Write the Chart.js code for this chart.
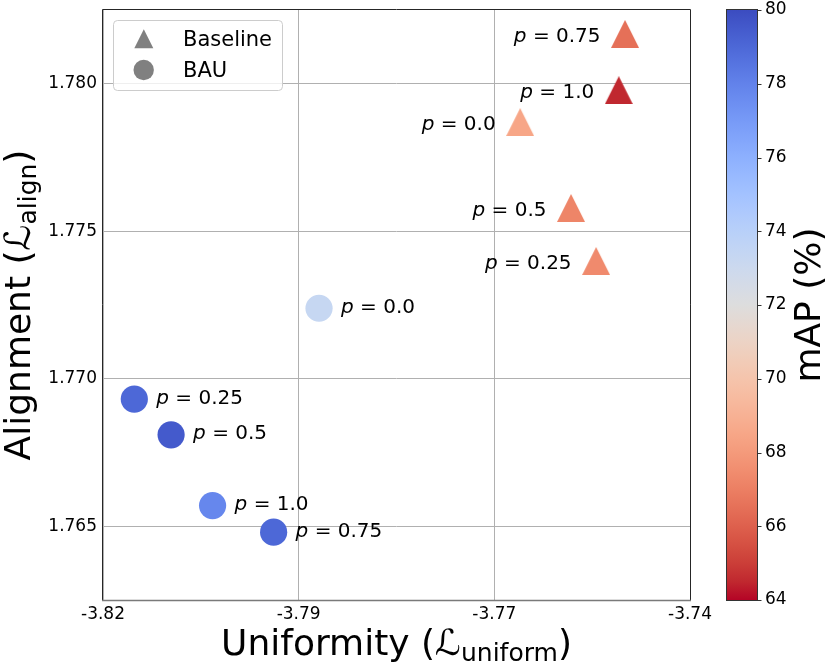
<!DOCTYPE html>
<html>
<head>
<meta charset="utf-8">
<script src="https://cdn.jsdelivr.net/npm/chart.js@4.4.1/dist/chart.umd.min.js"></script>
<style>
  html, body { margin: 0; padding: 0; background: #fff; }
</style>
</head>
<body>
<canvas id="c" width="830" height="666"></canvas>
<script>
// p values shown next to each point (same order for both series)
const pLabels = ["0.0", "0.25", "0.5", "0.75", "1.0"];

// Baseline (triangles)
const baselineX = [-3.7667, -3.7570, -3.7602, -3.7533, -3.7541];
const baselineY = [1.77870, 1.77399, 1.77579, 1.78169, 1.77978];
const baselineMAP = [68.5, 67.4, 67.2, 66.5, 64.5];

// BAU (circles)
const bauX = [-3.7924, -3.8160, -3.8113, -3.7982, -3.8060];
const bauY = [1.77239, 1.76931, 1.76810, 1.76480, 1.76570];
const bauMAP = [73.3, 79.0, 79.5, 79.0, 77.8];

const xTicks = [-3.82, -3.795, -3.77, -3.745];
const xTickLabels = ["-3.82", "-3.79", "-3.77", "-3.74"];
const yTicks = [1.765, 1.770, 1.775, 1.780];
const cbTicks = [64, 66, 68, 70, 72, 74, 76, 78, 80];
const cbMin = 64, cbMax = 80;

// coolwarm colormap lookup (33 samples), used reversed: 80 -> blue, 64 -> red
const coolwarm = [
  [59,76,192],[68,90,204],[77,104,215],[87,117,225],[98,130,234],[108,142,241],
  [119,154,247],[130,165,251],[141,176,254],[152,185,255],[163,194,255],[174,201,253],
  [184,208,249],[194,213,244],[204,217,238],[213,219,230],[221,221,221],[229,216,209],
  [236,211,197],[241,204,184],[245,196,172],[247,187,160],[247,177,148],[247,166,135],
  [244,154,123],[241,141,111],[236,127,99],[229,112,88],[222,96,77],[213,80,66],
  [203,62,56],[192,40,47],[180,4,38]
];
function cmap(t) {
  t = Math.max(0, Math.min(1, t)) * (coolwarm.length - 1);
  const i = Math.min(Math.floor(t), coolwarm.length - 2), f = t - i;
  const a = coolwarm[i], b = coolwarm[i + 1];
  const c = a.map((v, k) => Math.round(v + (b[k] - v) * f));
  return `rgb(${c[0]},${c[1]},${c[2]})`;
}
const mapColor = (v) => cmap((cbMax - v) / (cbMax - cbMin));

// matplotlib-like "^" marker (width == height)
function triangleImage(color, size) {
  const cv = document.createElement("canvas");
  cv.width = size; cv.height = size;
  const g = cv.getContext("2d");
  g.fillStyle = color;
  g.beginPath();
  g.moveTo(size / 2, 0);
  g.lineTo(size, size);
  g.lineTo(0, size);
  g.closePath();
  g.fill();
  return cv;
}

const FONT = "'DejaVu Sans', sans-serif";
const triImgs = baselineMAP.map((v) => triangleImage(mapColor(v), 28));

// draws text made of several runs (font / vertical shift) starting at x
function drawRuns(ctx, runs, x, y, align) {
  let total = 0;
  runs.forEach((r) => { ctx.font = r.font; r.w = ctx.measureText(r.t).width; total += r.w; });
  let cx = align === "center" ? x - total / 2 : align === "right" ? x - total : x;
  ctx.textAlign = "left";
  ctx.textBaseline = "alphabetic";
  runs.forEach((r) => {
    ctx.font = r.font;
    ctx.fillText(r.t, cx, y + (r.dy || 0));
    cx += r.w;
  });
}

const decorations = {
  id: "decorations",
  afterDraw(chart) {
    const { ctx, chartArea: ca, scales } = chart;
    ctx.save();
    ctx.fillStyle = "#000";

    // axes frame
    ctx.strokeStyle = "#262626";
    ctx.lineWidth = 1;
    ctx.beginPath();
    ctx.moveTo(ca.left - 0.5, ca.bottom);
    ctx.lineTo(ca.left - 0.5, ca.top - 0.5);
    ctx.lineTo(ca.right + 0.5, ca.top - 0.5);
    ctx.lineTo(ca.right + 0.5, ca.bottom);
    ctx.stroke();
    ctx.strokeStyle = "#7a7a7a";
    ctx.lineWidth = 1.5;
    ctx.beginPath();
    ctx.moveTo(ca.left - 1, ca.bottom + 0.5);
    ctx.lineTo(ca.right + 1, ca.bottom + 0.5);
    ctx.stroke();

    // point labels
    const x = scales.x, y = scales.y;
    pLabels.forEach((p, i) => {
      const bx = x.getPixelForValue(baselineX[i]), by = y.getPixelForValue(baselineY[i]);
      drawRuns(ctx, [
        { t: "p", font: `italic 20px ${FONT}` },
        { t: " = " + p, font: `20px ${FONT}` }
      ], bx - 24.5, by + 8, "right");
      const cx = x.getPixelForValue(bauX[i]), cy = y.getPixelForValue(bauY[i]);
      drawRuns(ctx, [
        { t: "p", font: `italic 20px ${FONT}` },
        { t: " = " + p, font: `20px ${FONT}` }
      ], cx + 22, cy + 4.5, "left");
    });

    // legend
    ctx.fillStyle = "rgba(255,255,255,0.8)";
    ctx.strokeStyle = "#cccccc";
    ctx.lineWidth = 1;
    ctx.beginPath();
    ctx.roundRect(113.5, 20.5, 169, 70, 4);
    ctx.fill();
    ctx.stroke();
    ctx.fillStyle = "#808080";
    ctx.beginPath();
    ctx.moveTo(143.8, 29.3);
    ctx.lineTo(153.3, 48.3);
    ctx.lineTo(134.3, 48.3);
    ctx.closePath();
    ctx.fill();
    ctx.beginPath();
    ctx.arc(143.7, 70, 10.2, 0, Math.PI * 2);
    ctx.fill();
    ctx.fillStyle = "#000";
    ctx.font = `21px ${FONT}`;
    ctx.textAlign = "left";
    ctx.textBaseline = "alphabetic";
    ctx.fillText("Baseline", 183, 45.5);
    ctx.fillText("BAU", 183, 77);

    // colorbar
    const cb = scales.cb;
    const top = cb.getPixelForValue(cbMax), bot = cb.getPixelForValue(cbMin);
    const bx0 = 727, bw = 30;
    const grad = ctx.createLinearGradient(0, top, 0, bot);
    coolwarm.forEach((c, i) => grad.addColorStop(i / (coolwarm.length - 1), `rgb(${c[0]},${c[1]},${c[2]})`));
    ctx.fillStyle = grad;
    ctx.fillRect(bx0, top, bw, bot - top);
    ctx.strokeStyle = "#333";
    ctx.lineWidth = 1;
    ctx.strokeRect(bx0 - 0.5, top - 0.5, bw + 1, bot - top + 1);
    ctx.beginPath();
    cbTicks.forEach((v) => {
      const py = Math.round(cb.getPixelForValue(v)) + 0.5;
      ctx.moveTo(bx0 + bw + 0.5, py);
      ctx.lineTo(bx0 + bw + 4.5, py);
    });
    ctx.stroke();

    // axis titles
    ctx.fillStyle = "#000";
    const midX = (ca.left + ca.right) / 2, midY = (ca.top + ca.bottom) / 2;
    drawRuns(ctx, [
      { t: "Uniformity (", font: `36px ${FONT}` },
      { t: "\u2112", font: `italic 36px ${FONT}` },
      { t: "uniform", font: `25px ${FONT}`, dy: 6 },
      { t: ")", font: `36px ${FONT}` }
    ], midX, 655, "center");

    ctx.save();
    ctx.translate(30, midY);
    ctx.rotate(-Math.PI / 2);
    drawRuns(ctx, [
      { t: "Alignment (", font: `36px ${FONT}` },
      { t: "\u2112", font: `italic 36px ${FONT}` },
      { t: "align", font: `25px ${FONT}`, dy: 6 },
      { t: ")", font: `36px ${FONT}` }
    ], 0, 0, "center");
    ctx.restore();

    ctx.save();
    ctx.translate(820, midY);
    ctx.rotate(-Math.PI / 2);
    drawRuns(ctx, [{ t: "mAP (%)", font: `36px ${FONT}` }], 0, 0, "center");
    ctx.restore();

    ctx.restore();
  }
};

const tickFont = { family: FONT, size: 17 };
const noPad = (s) => { s.paddingTop = 0; s.paddingBottom = 0; };

new Chart(document.getElementById("c"), {
  type: "scatter",
  data: {
    datasets: [
      {
        label: "Baseline",
        data: baselineX.map((v, i) => ({ x: v, y: baselineY[i] })),
        pointStyle: (c) => triImgs[c.dataIndex],
        pointRadius: 14,
        backgroundColor: baselineMAP.map(mapColor),
        borderWidth: 0
      },
      {
        label: "BAU",
        data: bauX.map((v, i) => ({ x: v, y: bauY[i] })),
        pointStyle: "circle",
        pointRadius: 13.6,
        backgroundColor: bauMAP.map(mapColor),
        borderWidth: 0
      }
    ]
  },
  options: {
    responsive: false,
    animation: false,
    devicePixelRatio: 1,
    events: [],
    layout: { autoPadding: false, padding: { top: 10, left: 0, right: 0, bottom: 0 } },
    plugins: { legend: { display: false }, tooltip: { enabled: false } },
    scales: {
      x: {
        type: "linear",
        min: -3.82,
        max: -3.745,
        afterBuildTicks: (s) => { s.ticks = xTicks.map((v) => ({ value: v })); },
        afterFit: (s) => { s.height = 66; s.paddingLeft = 0; s.paddingRight = 0; },
        ticks: {
          font: tickFont,
          color: "#000",
          padding: 4,
          maxRotation: 0,
          callback: (v, i) => xTickLabels[i]
        },
        grid: { color: "#b0b0b0", drawTicks: false },
        border: { display: false }
      },
      y: {
        type: "linear",
        min: 1.7625,
        max: 1.7825,
        afterBuildTicks: (s) => { s.ticks = yTicks.map((v) => ({ value: v })); },
        afterFit: (s) => { s.width = 103; noPad(s); },
        ticks: {
          font: tickFont,
          color: "#000",
          padding: 6,
          callback: (v) => Number(v).toFixed(3)
        },
        grid: { color: "#b0b0b0", drawTicks: false },
        border: { display: false }
      },
      cb: {
        type: "linear",
        position: "right",
        min: cbMin,
        max: cbMax,
        afterBuildTicks: (s) => { s.ticks = cbTicks.map((v) => ({ value: v })); },
        afterFit: (s) => { s.width = 140; noPad(s); },
        ticks: { font: tickFont, color: "#000", padding: 75 },
        grid: { display: false, drawTicks: false },
        border: { display: false }
      }
    }
  },
  plugins: [decorations]
});
</script>
</body>
</html>
